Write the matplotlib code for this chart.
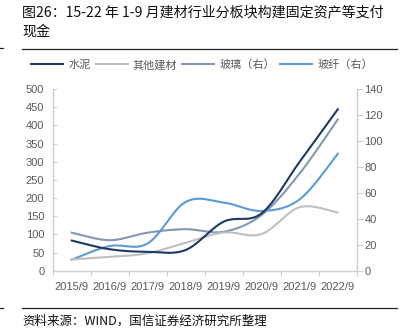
import numpy as np
import matplotlib
matplotlib.use('Agg')
import matplotlib.pyplot as plt
from matplotlib.lines import Line2D

plt.rcParams['font.family'] = ['Liberation Sans', 'Noto Sans CJK SC', 'DejaVu Sans']

# 数据
years = ['2015/9', '2016/9', '2017/9', '2018/9', '2019/9', '2020/9', '2021/9', '2022/9']
cement = [83, 59, 52, 57, 135, 158, 300, 444]          # 水泥（左）
other = [31, 38, 48, 77, 105, 101, 175, 160]           # 其他建材（左）
glass = [29.3, 23.5, 29.3, 32, 30, 43, 75, 116.5]      # 玻璃（右）
fiber = [8.5, 19, 21, 53, 52.5, 46, 55, 90]            # 玻纤（右）

C_CEMENT = '#1f3864'
C_OTHER = '#bfbfbf'
C_GLASS = '#8497b0'
C_FIBER = '#5b9bd5'
C_TEXT = '#595959'
C_AXIS = '#d0d0d0'


def smooth(x, y, n=30):
    """Excel 风格平滑线 (Catmull-Rom)"""
    x = np.asarray(x, float)
    y = np.asarray(y, float)
    px = np.concatenate([[x[0]], x, [x[-1]]])
    py = np.concatenate([[y[0]], y, [y[-1]]])
    xs, ys = [], []
    t = np.linspace(0, 1, n)
    for i in range(1, len(px) - 2):
        for p, out in ((px, xs), (py, ys)):
            p0, p1, p2, p3 = p[i - 1], p[i], p[i + 1], p[i + 2]
            c1 = p1 + (p2 - p0) / 6
            c2 = p2 - (p3 - p1) / 6
            out.append((1 - t) ** 3 * p1 + 3 * (1 - t) ** 2 * t * c1
                       + 3 * (1 - t) * t ** 2 * c2 + t ** 3 * p2)
    return np.concatenate(xs), np.concatenate(ys)


fig = plt.figure(figsize=(4.04, 3.30), dpi=100)
ax = fig.add_axes([0.1304, 0.1797, 0.883 - 0.1304, 0.7303 - 0.1797])
ax2 = ax.twinx()

x = np.arange(len(years))
ax.plot(*smooth(x, other), color=C_OTHER, lw=1.5, zorder=2)
ax.plot(*smooth(x, cement), color=C_CEMENT, lw=1.5, zorder=4)
ax2.plot(*smooth(x, glass), color=C_GLASS, lw=1.5, zorder=2)
ax2.plot(*smooth(x, fiber), color=C_FIBER, lw=1.5, zorder=3)
ax.set_zorder(ax2.get_zorder() + 1)
ax.patch.set_visible(False)

ax.set_xlim(-0.5, len(years) - 0.5)
ax.set_ylim(0, 500)
ax2.set_ylim(0, 140)
ax.set_yticks(np.arange(0, 501, 50))
ax2.set_yticks(np.arange(0, 141, 20))

ax.set_xticks(x)
ax.set_xticklabels(years)
ax.set_xticks(np.arange(-0.5, len(years), 1), minor=True)
ax.tick_params(axis='x', which='major', length=0, pad=8, labelsize=8, colors=C_TEXT)
ax.tick_params(axis='x', which='minor', length=3.5, width=0.8, color=C_AXIS, direction='out')
ax.tick_params(axis='y', direction='in', length=3, width=0.8, color=C_AXIS,
               labelsize=8, labelcolor=C_TEXT, pad=6)
ax2.tick_params(axis='y', direction='out', length=4, width=0.8, color=C_AXIS,
                labelsize=8, labelcolor=C_TEXT, pad=1.5)

for a in (ax, ax2):
    for s in ('top',):
        a.spines[s].set_visible(False)
    for s in ('left', 'right', 'bottom'):
        a.spines[s].set_color(C_AXIS)
        a.spines[s].set_linewidth(0.9)

# 图例
handles = [Line2D([], [], color=c, lw=1.5) for c in (C_CEMENT, C_OTHER, C_GLASS, C_FIBER)]
labels = ['水泥', '其他建材', '玻璃（右）', '玻纤（右）']
fig.legend(handles, labels, loc='center', bbox_to_anchor=(0.5, 0.803), ncol=4,
           frameon=False, fontsize=8, labelcolor=C_TEXT, handlelength=2.9,
           handletextpad=0.45, columnspacing=0.45, borderpad=0,
           prop={'family': ['Noto Sans CJK SC'], 'size': 8})

# 标题与来源
cjk = ['Noto Sans CJK SC', 'DejaVu Sans']
fig.text(22 / 404, 1 - 12 / 330, '图26：15-22 年 1-9 月建材行业分板块构建固定资产等支付',
         family=cjk, fontsize=10.1, color='#111111', va='center', ha='left')
fig.text(22 / 404, 1 - 32 / 330, '现金', family=cjk, fontsize=10.1,
         color='#111111', va='center', ha='left')
fig.add_artist(Line2D([22 / 404, 397 / 404], [1 - 49 / 330] * 2, color='#222222', lw=0.9))
fig.add_artist(Line2D([22 / 404, 397 / 404], [1 - 307.5 / 330] * 2, color='#222222', lw=0.9))
fig.add_artist(Line2D([0, 3 / 404], [1 - 48 / 330] * 2, color='#222222', lw=0.9))
fig.add_artist(Line2D([0, 3 / 404], [1 - 307.5 / 330] * 2, color='#222222', lw=0.9))
fig.text(22 / 404, 1 - 321.5 / 330, '资料来源：WIND，国信证券经济研究所整理',
         family=cjk, fontsize=9, color='#111111', va='center', ha='left')

fig.savefig('out.png', dpi=100, facecolor='white')
plt.close(fig)
